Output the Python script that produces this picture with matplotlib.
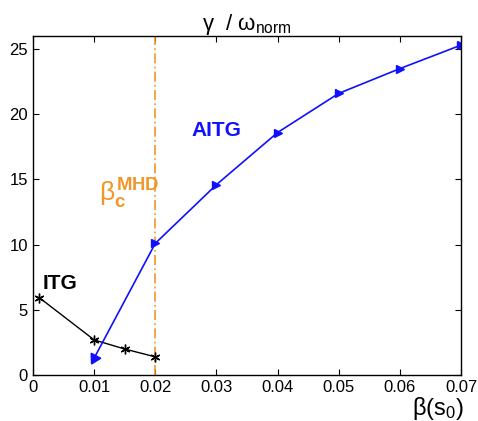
import numpy as np
import matplotlib.pyplot as plt

# ITG branch
itg_beta = [0.001, 0.01, 0.015, 0.02]
itg_gamma = [5.95, 2.7, 2.0, 1.4]

# AITG branch
aitg_beta = [0.01, 0.02, 0.03, 0.04, 0.05, 0.06, 0.07]
aitg_gamma = [1.3, 10.1, 14.6, 18.6, 21.6, 23.5, 25.3]

beta_crit = 0.02

plt.rcParams['font.family'] = ['Liberation Sans', 'DejaVu Sans']
plt.rcParams['mathtext.fontset'] = 'custom'
plt.rcParams['mathtext.rm'] = 'Liberation Sans'
plt.rcParams['mathtext.it'] = 'Liberation Sans'
plt.rcParams['mathtext.bf'] = 'Liberation Sans:bold'

fig = plt.figure(figsize=(4.78, 4.21), dpi=100)
ax = fig.add_axes([0.069, 0.109, 0.8955, 0.8055])

blue = '#1010ff'
orange = '#f0962a'

ax.axvline(beta_crit, color=orange, linestyle='-.', linewidth=1.2, dashes=(6, 2, 1, 2))

# asterisk markers
ax.plot(itg_beta, itg_gamma, color='black', linewidth=1, marker=(6, 2, 0), markersize=7,
        markeredgewidth=1)

ax.plot(aitg_beta, aitg_gamma, color=blue, linewidth=1.2)
# first point: arrowhead pointing back down the line
ax.plot(aitg_beta[0], aitg_gamma[0], marker=(3, 0, 152), color=blue, markersize=9, linestyle='none')
ax.plot(aitg_beta[1:], aitg_gamma[1:], marker='>', color=blue, markersize=6, linestyle='none')

ax.text(0.0015, 6.6, 'ITG', fontsize=15, fontweight='bold', color='black')
ax.text(0.026, 18.3, 'AITG', fontsize=15, fontweight='bold', color=blue)
ax.text(0.0108, 13.3, r'$\beta_{\mathbf{c}}^{\mathbf{MHD}}$', fontsize=19, color=orange)

ax.set_xlim(0, 0.07)
ax.set_ylim(0, 26)
ax.set_xticks(np.arange(0, 0.071, 0.01))
ax.set_xticklabels(['0', '0.01', '0.02', '0.03', '0.04', '0.05', '0.06', '0.07'])
ax.set_yticks([0, 5, 10, 15, 20, 25])
ax.tick_params(direction='in', top=True, right=True, labelsize=12, length=4, width=0.8)
for s in ax.spines.values():
    s.set_linewidth(1)

ax.set_title(r'$\gamma$  / $\omega_{\rm norm}$', fontsize=16, pad=4)
fig.text(0.915, 0.015, r'$\beta(s_0)$', fontsize=17, ha='center')

fig.savefig('out.png', dpi=100)
